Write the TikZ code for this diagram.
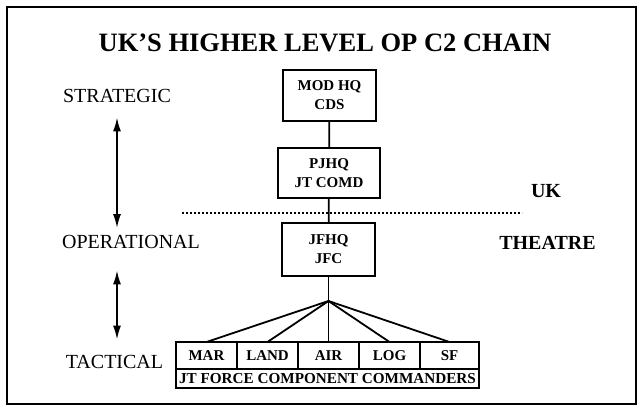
\documentclass[tikz,border=0pt]{standalone}
\usepackage{fontspec}
\setmainfont{Liberation Serif}
\usepackage{tikz}
\usetikzlibrary{positioning,arrows.meta}

\begin{document}
\begin{tikzpicture}[
  x=1pt, y=-1pt,
  hq/.style={draw, line width=1.8pt, inner sep=0pt, align=center, font=\fontsize{15}{19}\selectfont\bfseries},
  cell/.style={draw, line width=1.8pt, inner sep=0pt, outer sep=0pt, minimum height=27pt, minimum width=61pt, font=\fontsize{15}{18}\selectfont\bfseries},
  level/.style={inner sep=0pt, anchor=base, font=\fontsize{20}{24}\selectfont},
  area/.style={inner sep=0pt, anchor=base, font=\fontsize{20}{24}\selectfont\bfseries},
  link/.style={line width=1.8pt},
  span/.style={{Latex[length=14pt,width=8pt]}-{Latex[length=14pt,width=8pt]}, line width=1.8pt},
]
\useasboundingbox (0,0) rectangle (641,409);
\draw[line width=1.4pt] (7,7) rectangle (636,404);

% Title
\node[inner sep=0pt, anchor=base, font=\fontsize{26.5}{30}\selectfont\bfseries] (title) at (325,52) {UK'S HIGHER LEVEL OP C2 CHAIN};

% Levels
\node[level] (strat) at (117,102.5) {STRATEGIC};
\node[level] (oper) at (131,248.5) {OPERATIONAL};
\node[level] (tact) at (114.5,368) {TACTICAL};
\draw[span, shorten <=14.5pt, shorten >=7pt] (strat.south) -- (strat.south |- oper.north);
\draw[span, shorten <=21.5pt, shorten >=15pt] (strat.south |- oper.south) -- (strat.south |- tact.north);

% UK / theatre split
\node[area] (uk) at (546,198) {UK};
\node[area] (theatre) at (547.5,250) {THEATRE};
\draw[line width=1.6pt, dash pattern=on 2pt off 2pt] (182,213) -- (522,213);

% HQs
\node[hq, minimum width=93pt, minimum height=51pt] (mod) at (329.5,95.5) {MOD HQ\\CDS};
\node[hq, minimum width=102pt, minimum height=50pt] (pjhq) at (329,173) {PJHQ\\JT COMD};
\node[hq, minimum width=93pt, minimum height=53pt] (jfhq) at (328.5,249.5) {JFHQ\\JFC};
\draw[link] (mod) -- (pjhq);
\draw[link] (pjhq) -- (jfhq);

% Component commanders
\node[cell] (mar) at (206.5,355.5) {MAR};
\node[cell] (land) at (267.5,355.5) {LAND};
\node[cell] (air) at (328.5,355.5) {AIR};
\node[cell] (log) at (389.5,355.5) {LOG};
\node[cell, minimum width=59pt] (sf) at (449.5,355.5) {SF};
\node[cell, minimum width=303pt, minimum height=19pt, font=\fontsize{15.2}{18}\selectfont\bfseries] (jtfcc) at (327.5,378.5) {JT FORCE COMPONENT COMMANDERS};

\coordinate (fan) at (328.5,301);
\draw[link] (jfhq) -- (fan);
\draw[link] (fan) -- (mar.north);
\draw[link] (fan) -- (land.north);
\draw[link] (fan) -- (air.north);
\draw[link] (fan) -- (log.north);
\draw[link] (fan) -- (sf.north);
\end{tikzpicture}
\end{document}
